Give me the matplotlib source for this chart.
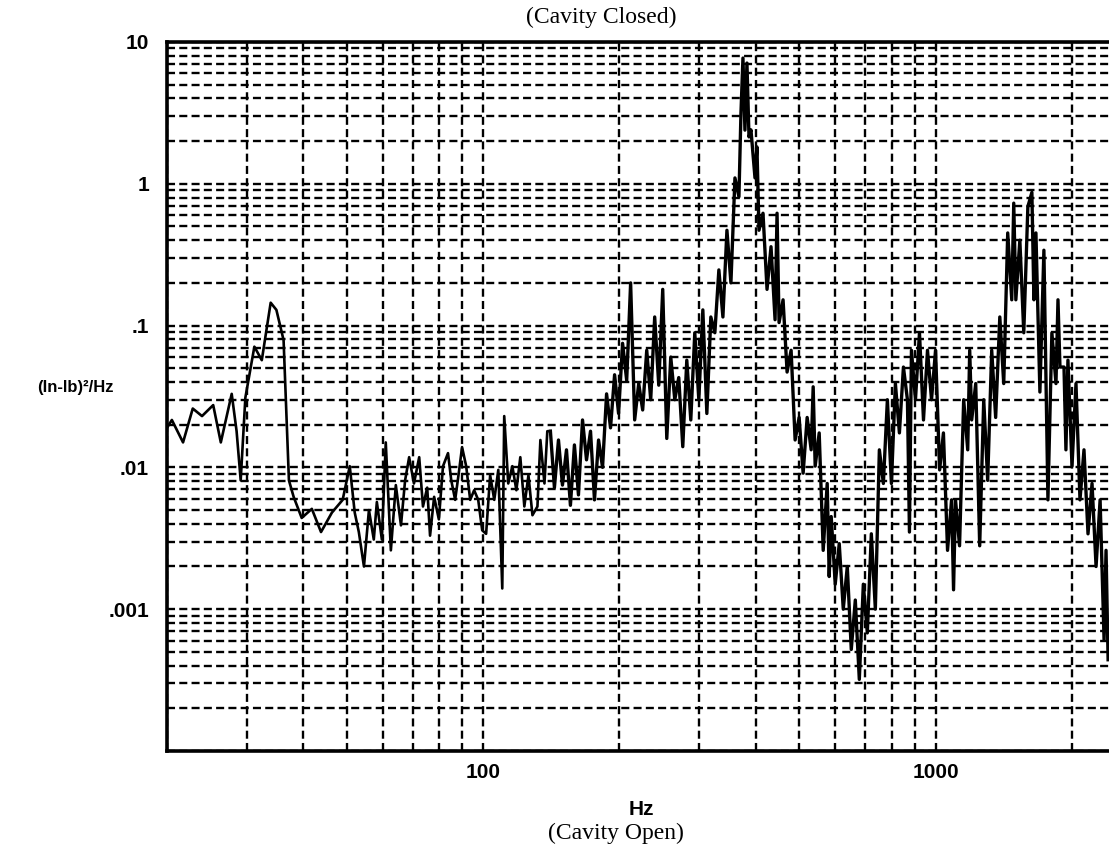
import numpy as np
import matplotlib
matplotlib.use("Agg")
import matplotlib.pyplot as plt
from matplotlib.ticker import LogLocator, FixedLocator, FixedFormatter, NullFormatter

# moment spectrum, (in-lb)^2/Hz vs frequency
freq_hz = [
    20, 20.5, 21.7, 22.8, 23.9, 25.3, 26.3, 27.8, 28.5, 29.1,
    29.8, 31.2, 32.4, 33.9, 34.9, 36.2, 37.2, 38.1, 39.7, 41.8,
    43.8, 46.3, 48.9, 50.7, 52.0, 53.1, 54.5, 55.9, 57.3, 58.2,
    59.7, 60.9, 62.5, 64.1, 65.8, 67.2, 68.6, 70.3, 72.2, 73.6,
    75.2, 76.3, 77.9, 79.8, 81.5, 83.6, 85.0, 86.7, 88.5, 89.8,
    91.7, 93.6, 95.5, 97.5, 99.5, 101.5, 103.6, 105.8, 108.0, 110.2,
    111.3, 113.6, 116.0, 118.4, 120.8, 123.3, 125.9, 128.5, 131.8, 133.8,
    136.6, 138.6,
    140.8, 143.7, 146.7, 149.7, 152.8, 155.9, 159.1, 162.4, 165.8, 169.2,
    172.7, 176.2, 179.9, 183.6, 187.4, 191.2, 195.2, 199.2, 203.3, 207.6,
    211.8, 216.2, 220.7, 225.2, 229.9, 234.6, 239.4, 244.4, 249.4, 254.6,
    259.8, 265.2, 270.6, 276.2, 281.9, 287.7, 293.6, 299.7, 305.9, 312.2,
    318.6, 325.2, 331.9, 338.8, 345.8, 352.9, 360.2, 367.6, 371.4, 375.2,
    379.0, 382.9, 386.9, 390.8, 398.9, 402.9, 407.1, 415.5, 424.1, 432.8,
    441.8, 446.3, 450.9, 460.2, 469.7, 479.4, 489.3, 499.4, 509.7, 520.2,
    530.9, 536.4, 541.9, 553.1, 564.5, 576.1, 582.0, 588.0, 600.1, 612.5,
    625.2, 638.1, 651.2, 664.7, 678.4, 692.4, 706.6, 721.2, 736.1, 751.3,
    766.8, 782.6, 798.8, 815.2, 832.0, 849.2, 866.7, 875.6, 884.6, 902.9,
    921.5, 940.5, 959.9, 979.7, 1000, 1021, 1041, 1063, 1085, 1096,
    1107, 1130, 1154, 1178, 1190, 1202, 1227, 1252, 1278, 1304,
    1331, 1358, 1387, 1415, 1444, 1474, 1489, 1505, 1536, 1567,
    1600, 1633, 1650, 1667, 1701, 1736, 1772, 1808, 1846, 1865,
    1884, 1923, 1942, 1962, 2003, 2044, 2086, 2129, 2173, 2218,
    2264, 2311, 2358, 2382, 2407,
]
psd = [
    0.019, 0.0216, 0.015, 0.026, 0.023, 0.0275, 0.015, 0.033, 0.018, 0.0081,
    0.031, 0.071, 0.057, 0.145, 0.129, 0.079, 0.0081, 0.0062, 0.0044, 0.0051,
    0.0035, 0.0048, 0.0059, 0.0102, 0.0048, 0.0035, 0.0020, 0.0050, 0.0031, 0.0057,
    0.0031, 0.015, 0.0026, 0.0075, 0.0039, 0.0081, 0.0118, 0.0077, 0.0118, 0.0053,
    0.0072, 0.0033, 0.0062, 0.0043, 0.0102, 0.0126, 0.0081, 0.0059, 0.0096, 0.0139,
    0.0102, 0.0059, 0.0069, 0.0059, 0.0036, 0.0034, 0.0088, 0.0059, 0.0096, 0.0014,
    0.023, 0.0077, 0.0102, 0.0069, 0.0118, 0.0053, 0.0088, 0.0046, 0.0053, 0.0156,
    0.0077, 0.018,
    0.018, 0.0072, 0.0156, 0.0075, 0.0133, 0.0054, 0.0144, 0.0064, 0.0216, 0.0113,
    0.018, 0.0059, 0.0156, 0.0100, 0.033, 0.019, 0.045, 0.024, 0.075, 0.041,
    0.20, 0.0216, 0.039, 0.0254, 0.067, 0.030, 0.115, 0.038, 0.18, 0.016,
    0.060, 0.030, 0.043, 0.014, 0.057, 0.0216, 0.089, 0.030, 0.129, 0.024,
    0.115, 0.089, 0.247, 0.115, 0.47, 0.20, 1.1, 0.81, 3.16, 7.7,
    2.39, 7.1, 2.14, 2.4, 1.1, 1.82, 0.47, 0.62, 0.18, 0.36,
    0.11, 0.62, 0.105, 0.152, 0.047, 0.067, 0.0156, 0.0225, 0.0091, 0.0225,
    0.0133, 0.037, 0.0102, 0.0175, 0.0026, 0.0077, 0.0017, 0.0045, 0.0015, 0.0029,
    0.0010, 0.0020, 0.00052, 0.00116, 0.00032, 0.0015, 0.00068, 0.0034, 0.0010, 0.0133,
    0.0077, 0.030, 0.0077, 0.039, 0.0175, 0.051, 0.030, 0.0035, 0.067, 0.030,
    0.089, 0.0216, 0.067, 0.030, 0.067, 0.0096, 0.0175, 0.0026, 0.0059, 0.00137,
    0.0059, 0.0028, 0.030, 0.0133, 0.067, 0.0216, 0.039, 0.0028, 0.030, 0.0081,
    0.067, 0.0225, 0.115, 0.039, 0.45, 0.152, 0.73, 0.152, 0.40, 0.089,
    0.69, 0.87, 0.152, 0.45, 0.034, 0.34, 0.0059, 0.089, 0.039, 0.152,
    0.051, 0.051, 0.0133, 0.057, 0.0102, 0.039, 0.0059, 0.0133, 0.0034, 0.0077,
    0.0020, 0.0059, 0.00061, 0.0026, 0.00044,
]

y_ticks = [1e-3, 1e-2, 1e-1, 1, 10]
y_tick_labels = ['.001', '.01', '.1', '1', '10']
x_ticks = [100, 1000]
x_tick_labels = ['100', '1000']

fig = plt.figure(figsize=(11.09, 8.48), dpi=100)
ax = fig.add_axes([0.1506, 0.1144, 0.8553, 0.8361])

# sparse low-frequency part drawn thinner than the dense band above ~140 Hz
f = np.array(freq_hz)
p = np.array(psd)
split = np.searchsorted(f, 140)
ax.plot(f[:split + 1], p[:split + 1], color='black', lw=1.9, zorder=3)
ax.plot(f[split:], p[split:], color='black', lw=2.4, zorder=3)

ax.set_xscale('log')
ax.set_yscale('log')
ax.set_xlim(20, 2500)
ax.set_ylim(1e-4, 10)

ax.xaxis.set_major_locator(FixedLocator(x_ticks))
ax.xaxis.set_major_formatter(FixedFormatter(x_tick_labels))
ax.xaxis.set_minor_locator(LogLocator(base=10, subs=np.arange(2, 10)))
ax.xaxis.set_minor_formatter(NullFormatter())
ax.yaxis.set_major_locator(FixedLocator(y_ticks))
ax.yaxis.set_major_formatter(FixedFormatter(y_tick_labels))
ax.yaxis.set_minor_locator(LogLocator(base=10, subs=np.arange(1, 10)))
ax.yaxis.set_minor_formatter(NullFormatter())

grid_style = dict(color='black', lw=1.7, linestyle=(0, (3.4, 1.8)))
ax.grid(True, which='both', axis='both', **grid_style)
ax.set_axisbelow(True)

ax.tick_params(which='both', length=0)
ax.tick_params(axis='y', pad=13)
ax.tick_params(axis='x', pad=9)
for lab in ax.get_xticklabels() + ax.get_yticklabels():
    lab.set_fontfamily('Liberation Sans')
    lab.set_fontweight('bold')
    lab.set_fontsize(15)

for side in ['left', 'bottom', 'top']:
    ax.spines[side].set_linewidth(2.6)
ax.spines['right'].set_visible(False)

fig.text(0.542, 0.98, '(Cavity Closed)', ha='center', va='center',
         family='Liberation Serif', fontsize=17)
fig.text(0.578, 0.045, 'Hz', ha='center', va='center',
         family='Liberation Sans', fontweight='bold', fontsize=15)
fig.text(0.5555, 0.017, '(Cavity Open)', ha='center', va='center',
         family='Liberation Serif', fontsize=17)
fig.text(0.0676, 0.5425, '(In-lb)²/Hz', ha='center', va='center',
         family='Liberation Sans', fontweight='bold', fontsize=12)

fig.savefig('out.png', dpi=100)
